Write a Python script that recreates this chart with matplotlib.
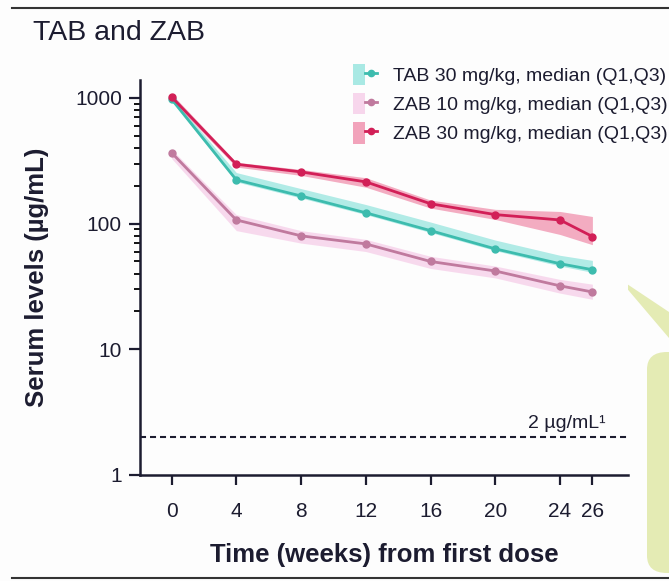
import matplotlib
matplotlib.use("Agg")
import matplotlib.pyplot as plt
from matplotlib.patches import Patch, FancyBboxPatch, Polygon
from matplotlib.lines import Line2D
from matplotlib.ticker import NullFormatter, FixedLocator
from matplotlib.legend_handler import HandlerTuple

weeks = [0, 4, 8, 12, 16, 20, 24, 26]
tab30_med = [980, 223, 166, 122, 88, 63, 48, 43]
tab30_q1 = [940, 215, 160, 118, 85, 61, 46, 41]
tab30_q3 = [1020, 255, 190, 142, 103, 74, 56, 51]
zab10_med = [367, 107, 80, 69, 50, 42, 32, 28.6]
zab10_q1 = [330, 88, 70, 60, 44, 37, 28, 25]
zab10_q3 = [390, 118, 88, 75, 55, 46, 36, 33]
zab30_med = [1020, 297, 258, 215, 144, 118, 107, 79]
zab30_q1 = [960, 282, 242, 195, 133, 108, 82, 68]
zab30_q3 = [1080, 308, 270, 232, 154, 130, 125, 114]
labels = ["TAB 30 mg/kg, median (Q1,Q3)",
          "ZAB 10 mg/kg, median (Q1,Q3)",
          "ZAB 30 mg/kg, median (Q1,Q3)"]
xticks = [0, 4, 8, 12, 16, 20, 24, 26]
yticks = [1, 10, 100, 1000]
threshold = 2
threshold_label = "2 µg/mL¹"

line_cols = ["#3dbcae", "#c07a9e", "#d21f57"]
band_cols = ["#a9e9e4", "#f7d6ec", "#f2a3bb"]
txt = "#1c1c30"

plt.rcParams['font.family'] = ['Liberation Sans', 'DejaVu Sans']

fig = plt.figure(figsize=(6.69, 5.81), dpi=100)
fig.patch.set_facecolor("#fdfdfd")
W, H = 669, 581
L, R, T, B = 140, 628, 80, 475
ax = fig.add_axes([L/W, 1-B/H, (R-L)/W, (B-T)/H])
ax.set_facecolor("#fdfdfd")

series = [(tab30_med, tab30_q1, tab30_q3), (zab10_med, zab10_q1, zab10_q3),
          (zab30_med, zab30_q1, zab30_q3)]
handles = []
for (med, q1, q3), lc, bc in zip(series, line_cols, band_cols):
    ax.fill_between(weeks, q1, q3, color=bc, lw=0, alpha=0.9)
    ax.plot(weeks, med, color=lc, lw=2, marker="o", ms=5, zorder=3)
    handles.append((Patch(facecolor=bc, edgecolor="none"),
                    Line2D([], [], color=lc, lw=2, marker="o", ms=4.5)))

ax.axhline(threshold, color=txt, ls=(0, (2.9, 1.9)), lw=1.5)
ax.text(26.8, threshold*1.1, threshold_label, ha="right", va="bottom",
        fontsize=14, color=txt)

ax.set_yscale("log")
ax.set_ylim(1, 1390)
ax.set_xlim(-1.95, 28.2)
ax.yaxis.set_major_locator(FixedLocator(yticks))
ax.set_yticklabels([str(v) for v in yticks])
minors = [m * d for d in (10, 100) for m in range(2, 10)]
ax.yaxis.set_minor_locator(FixedLocator(minors))
ax.yaxis.set_minor_formatter(NullFormatter())
ax.set_xticks(xticks)
ax.set_xticklabels([str(v) for v in xticks])
ax.tick_params(axis="both", colors=txt, labelsize=15, width=1.6)
ax.tick_params(axis="y", which="major", length=8, pad=5)
ax.tick_params(axis="y", which="minor", length=4.5, width=1.3)
ax.tick_params(axis="x", length=7.5, pad=12)
for s in ["top", "right"]:
    ax.spines[s].set_visible(False)
for s in ["left", "bottom"]:
    ax.spines[s].set_color(txt)
    ax.spines[s].set_linewidth(1.8)

ax.set_ylabel("Serum levels (µg/mL)", fontsize=18.5, fontweight="bold", color=txt, va="center")
ax.yaxis.set_label_coords((37-L)/(R-L), 0.5)
ax.set_xlabel("Time (weeks) from first dose", fontsize=18.5, fontweight="bold", color=txt, va="center")
ax.xaxis.set_label_coords((384-L)/(R-L), (B-555)/(B-T))

fig.text(33/W, 1-33/H, "TAB and ZAB", fontsize=20.5, color=txt, va="center", ha="left")

fig.legend(handles, labels, loc="upper left", bbox_to_anchor=(353/W, 1-64/H),
           frameon=False, fontsize=14, handlelength=1.25, handleheight=1.3,
           labelspacing=0.41, handletextpad=0.82, borderaxespad=0, borderpad=0,
           handler_map={tuple: HandlerTuple(ndivide=None, pad=0)},
           labelcolor=txt)

# borders
fig.add_artist(Line2D([12/W, 1], [1-8/H, 1-8/H], color="#333333", lw=1.5))
fig.add_artist(Line2D([12/W, 1], [1-578/H, 1-578/H], color="#333333", lw=1.5))

# callout
callout_col = "#e4ebb4"
box = FancyBboxPatch((647/W, 1-573/H), 60/W, (573-352)/H,
                     boxstyle="round,pad=0,rounding_size=0.03",
                     transform=fig.transFigure, facecolor=callout_col,
                     edgecolor="none", zorder=0)
fig.add_artist(box)
tri = Polygon([(618/W, 1-278/H), (669/W, 1-312/H), (669/W, 1-338/H)],
              closed=True, transform=fig.transFigure, facecolor=callout_col,
              edgecolor="none", zorder=0)
fig.add_artist(tri)

fig.savefig("out.png", dpi=100)
